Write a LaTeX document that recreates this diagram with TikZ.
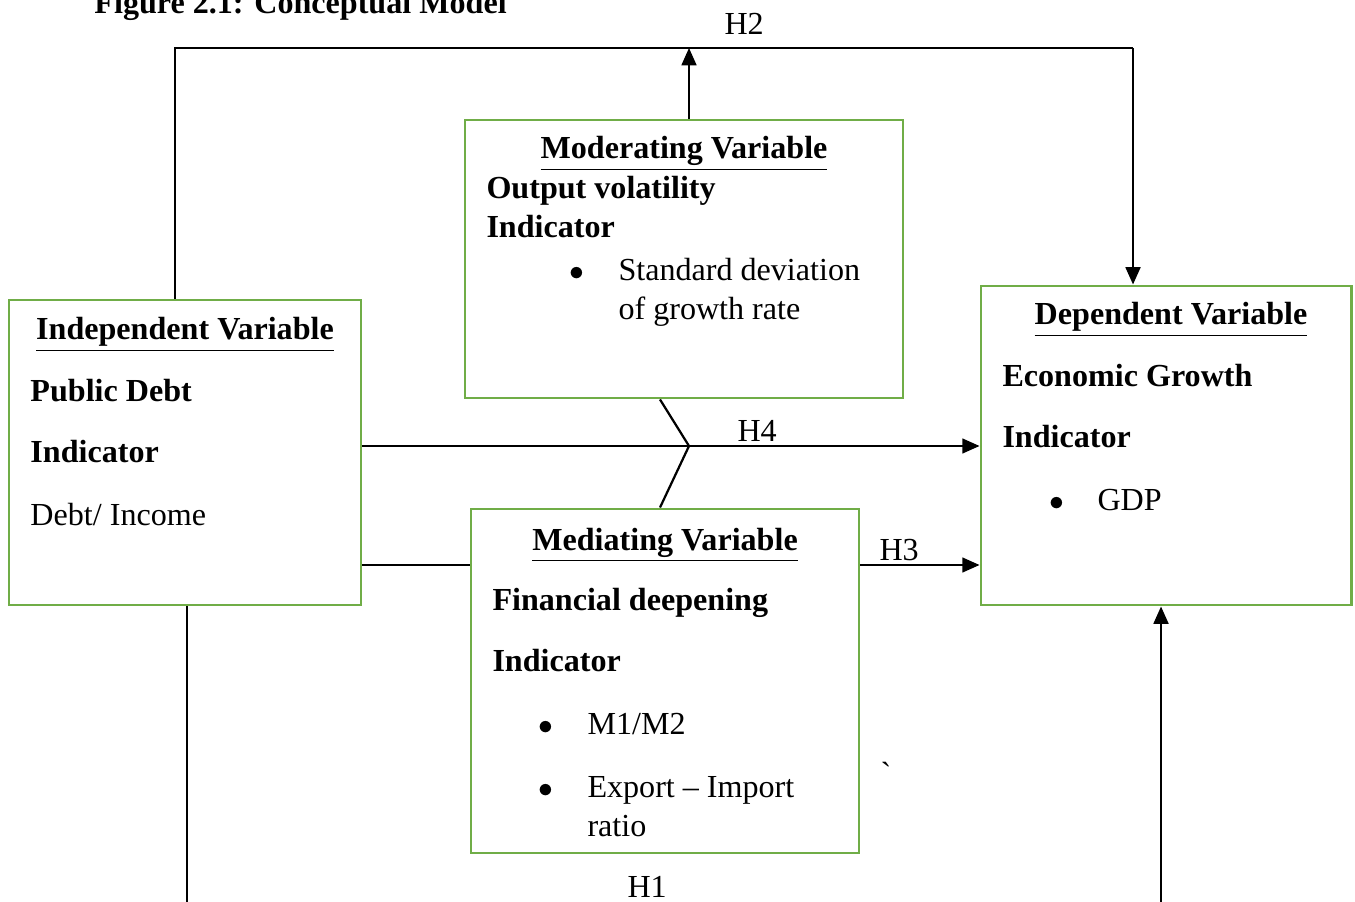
\documentclass[tikz,border=0pt]{standalone}
\usepackage{fontspec}
\setmainfont{Liberation Serif}
\usepackage{tikz}
\usetikzlibrary{arrows.meta, fit}

\definecolor{boxgreen}{RGB}{112,173,71}

\tikzset{
    varbox/.style = {draw=boxgreen, line width=1.2pt, inner sep=0pt},
    txt/.style = {anchor=base west, inner sep=0pt, font=\fontsize{13}{15}\selectfont},
    bold/.style = {txt, font=\fontsize{13}{15}\selectfont\bfseries},
    head/.style = {anchor=base, inner sep=0pt, font=\fontsize{13}{15}\selectfont\bfseries},
    link/.style = {line width=0.9pt},
    arr/.style = {line width=0.9pt, -{Triangle[length=7pt, width=6pt]}}
}

\begin{document}
\begin{tikzpicture}[x=0.405pt, y=-0.405pt]
    \useasboundingbox (0,0) rectangle (1355,902);

    % boxes
    \node[varbox, fit={(9,300) (361,605)}] (indep) {};
    \node[varbox, fit={(465,120) (903,398)}] (moder) {};
    \node[varbox, fit={(981,286) (1351,605)}] (dep) {};
    \node[varbox, fit={(471,509) (859,853)}] (medi) {};

    \coordinate (tl) at (175,48);
    \coordinate (tr) at (1133,48);
    \coordinate (tm) at (689,48);
    \coordinate (kink) at (689,446);
    \coordinate (bl) at (187,902);
    \coordinate (br) at (1161,902);

    % title
    \node[bold] (title) at (94,14) {Figure 2.1: Conceptual Model};

    % independent
    \node[head] (indephd) at (185,340) {\underline{Independent Variable}};
    \node[bold] (debt) at (30,402) {Public Debt};
    \node[bold] (indind) at (30,463) {Indicator};
    \node[txt] (ratio1) at (30,526) {Debt/ Income};

    % moderating
    \node[head] (moderhd) at (684,159) {\underline{Moderating Variable}};
    \node[bold] (outvol) at (486,199) {Output volatility};
    \node[bold] (modind) at (486,238) {Indicator};
    \node[txt] (modbul) at (569,281) {$\bullet$};
    \node[txt] (stdev) at (618,281) {Standard deviation};
    \node[txt] (growth) at (618,320) {of growth rate};

    % dependent
    \node[head] (dephd) at (1171,325) {\underline{Dependent Variable}};
    \node[bold] (econ) at (1002,387) {Economic Growth};
    \node[bold] (depind) at (1002,448) {Indicator};
    \node[txt] (depbul) at (1049,511) {$\bullet$};
    \node[txt] (gdp) at (1097,511) {GDP};

    % mediating
    \node[head] (medihd) at (665,550) {\underline{Mediating Variable}};
    \node[bold] (findeep) at (492,610) {Financial deepening};
    \node[bold] (medind) at (492,671) {Indicator};
    \node[txt] (medbula) at (538,734) {$\bullet$};
    \node[txt] (m1m2) at (587,734) {M1/M2};
    \node[txt] (medbulb) at (538,797) {$\bullet$};
    \node[txt] (expimp) at (587,797) {Export -- Import};
    \node[txt] (ratio2) at (587,836) {ratio};
    \node[txt] (tick) at (880,784) {\textasciigrave};

    % connectors
    \draw[link] (indep.north -| tl) -- (tl) -- (tr);
    \draw[arr] (tr) -- (dep.north -| tr);
    \draw[arr] (moder.north -| tm) -- (tm);
    \draw[arr] (indep.east |- kink) -- (dep.west |- kink);
    \draw[link] (moder.south -| 660,0) -- (kink) -- (medi.north -| 660,0);
    \draw[link] (indep.east |- 0,565) -- (medi.west |- 0,565);
    \draw[arr] (medi.east |- 0,565) -- (dep.west |- 0,565);
    \draw[link] (indep.south -| bl) -- (bl);
    \draw[arr] (br) -- (dep.south -| br);

    % hypothesis labels
    \node[txt] (h2) at (724,35) {H2};
    \node[txt] (h4) at (737,442) {H4};
    \node[txt] (h3) at (879,561) {H3};
    \node[txt] (h1) at (627,897) {H1};
\end{tikzpicture}
\end{document}
